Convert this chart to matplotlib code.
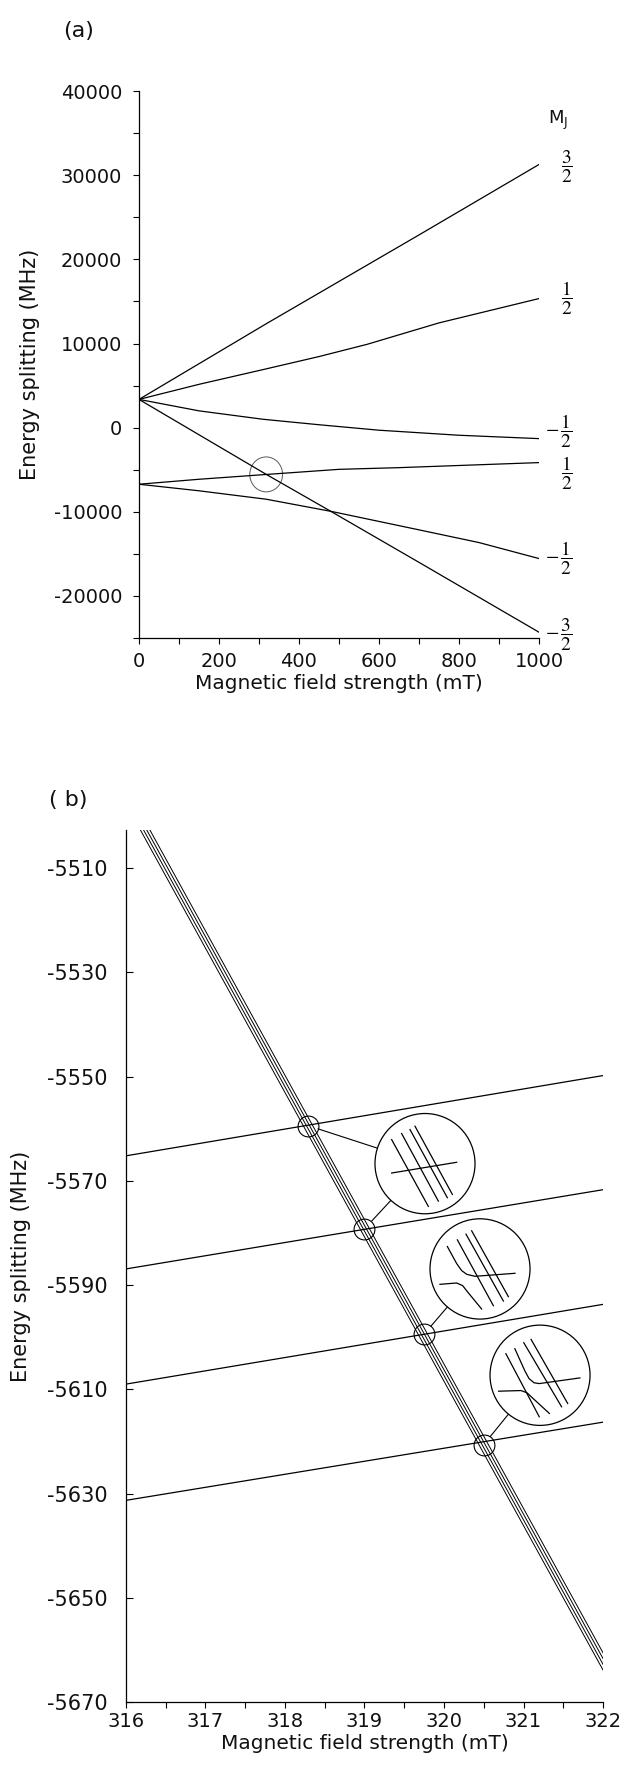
import matplotlib
matplotlib.use("Agg")
import matplotlib.pyplot as plt
from matplotlib.patches import Ellipse
from matplotlib.ticker import MultipleLocator

plt.rcParams["font.family"] = "DejaVu Sans"
plt.rcParams["axes.unicode_minus"] = False

# ---- panel (a): Zeeman levels up to 1 T ----
b_up_32 = [0, 320, 700, 1000]
e_up_32 = [3360, 12400, 22900, 31270]
b_up_12 = [0, 150, 310, 450, 570, 750, 1000]
e_up_12 = [3360, 5150, 6900, 8450, 9900, 12450, 15340]
b_up_m12 = [0, 150, 310, 450, 600, 800, 1000]
e_up_m12 = [3360, 2000, 1000, 350, -300, -900, -1300]
b_up_m32 = [0, 320, 480, 700, 1000]
e_up_m32 = [3360, -5600, -9950, -16000, -24300]
b_lo_12 = [0, 150, 318, 500, 650, 1000]
e_lo_12 = [-6720, -6130, -5560, -4950, -4750, -4150]
b_lo_m12 = [0, 150, 318, 483, 693, 850, 1000]
e_lo_m12 = [-6720, -7500, -8500, -9970, -12070, -13650, -15550]

mj_labels = [r"$\dfrac{3}{2}$", r"$\dfrac{1}{2}$", r"$-\,\dfrac{1}{2}$",
             r"$\dfrac{1}{2}$", r"$-\,\dfrac{1}{2}$", r"$-\,\dfrac{3}{2}$"]
label_dy = [-2, 0, 5, -8, 0, -2]   # points, keeps crowded labels apart

zoom_b, zoom_e = 318, -5550        # region blown up in panel (b)

# ---- panel (b): crossings near 318-321 mT ----
field_b = [316.0, 322.0]
steep_e = [[-5497.65, -5663.85], [-5496.55, -5662.75],
           [-5495.45, -5661.65], [-5494.35, -5660.55]]
flat_e = [[-5565.2, -5549.8], [-5586.9, -5571.7],
          [-5609.0, -5593.7], [-5631.3, -5616.3]]
cross_b = [318.29, 319.0, 319.75, 320.5]
cross_e = [-5559.4, -5579.2, -5599.4, -5620.6]
bubble_b = [319.761, 320.453, 321.208]
bubble_e = [-5566.7, -5586.9, -5607.3]
cross_to_bubble = [0, 0, 1, 2]

# schematic sketches inside each bubble, in units of the bubble radius
sketch_1 = [
    [(-0.667, 0.48), (0.067, -0.853)],
    [(-0.467, 0.60), (0.267, -0.747)],
    [(-0.30, 0.68), (0.447, -0.68)],
    [(-0.20, 0.747), (0.547, -0.613)],
    [(-0.667, -0.187), (0.633, 0.027)],
]
sketch_2 = [
    [(-0.653, 0.447), (-0.467, 0.107), (-0.367, -0.033), (-0.267, -0.107),
     (-0.10, -0.147), (0.70, -0.087)],
    [(-0.80, -0.307), (-0.467, -0.28), (-0.347, -0.333), (-0.253, -0.453),
     (0.033, -0.80)],
    [(-0.453, 0.58), (0.267, -0.733)],
    [(-0.28, 0.693), (0.467, -0.64)],
    [(-0.167, 0.76), (0.567, -0.553)],
]
sketch_3 = [
    [(-0.683, 0.43), (-0.016, -0.828)],
    [(-0.504, 0.53), (-0.30, 0.08), (-0.22, -0.066), (-0.12, -0.15),
     (-0.016, -0.166), (0.797, -0.053)],
    [(-0.829, -0.318), (-0.382, -0.305), (-0.26, -0.35), (-0.138, -0.464),
     (0.187, -0.762)],
    [(-0.325, 0.649), (0.431, -0.629)],
    [(-0.179, 0.715), (0.553, -0.563)],
]
sketches = [sketch_1, sketch_2, sketch_3]
bubble_rx, bubble_ry = 0.629, 9.62   # mT, MHz

fig = plt.figure(figsize=(6.28, 17.68), dpi=100)
ax1 = fig.add_axes([0.2213, 0.6391, 0.6369, 0.3094])
ax2 = fig.add_axes([0.2006, 0.0373, 0.7596, 0.4932])

lw = 0.9
ink = "#111111"

# --- (a) ---
curves = [(b_up_32, e_up_32), (b_up_12, e_up_12), (b_up_m12, e_up_m12),
          (b_lo_12, e_lo_12), (b_lo_m12, e_lo_m12), (b_up_m32, e_up_m32)]
for (bx, ey), lab, dy in zip(curves, mj_labels, label_dy):
    ax1.plot(bx, ey, color="black", lw=lw)
    ax1.annotate(lab, xy=(bx[-1], ey[-1]), xytext=(24, dy),
                 textcoords="offset points", ha="right", va="center",
                 fontsize=14, math_fontfamily="stix", annotation_clip=False)
ax1.annotate(r"M$_{\rm J}$", xy=(1000, 36500), xytext=(14, 0),
             textcoords="offset points", ha="center", va="center",
             fontsize=13, color=ink, annotation_clip=False)
ax1.add_patch(Ellipse((zoom_b, zoom_e), 82, 4150, fill=False,
                      ec="0.35", lw=0.7))

ax1.set_xlim(0, 1000)
ax1.set_ylim(-25000, 40000)
ax1.xaxis.set_major_locator(MultipleLocator(200))
ax1.xaxis.set_minor_locator(MultipleLocator(100))
ax1.yaxis.set_major_locator(MultipleLocator(10000))
ax1.yaxis.set_minor_locator(MultipleLocator(5000))
ax1.tick_params(which="both", direction="out", length=4, width=0.8,
                labelsize=14, labelcolor=ink)
ax1.tick_params(axis="y", pad=8)
ax1.tick_params(axis="x", pad=6)
ax1.set_xlabel("Magnetic field strength (mT)", fontsize=14.5, color=ink,
               labelpad=2)
ax1.set_ylabel("Energy splitting (MHz)", fontsize=15, color=ink,
               labelpad=10)
ax1.text(-0.15, 1.11, "(a)", transform=ax1.transAxes, fontsize=16,
         ha="center", va="center", color=ink)

# --- (b) ---
for ey in steep_e:
    ax2.plot(field_b, ey, color="black", lw=0.7)
for ey in flat_e:
    ax2.plot(field_b, ey, color="black", lw=lw)
ax2.plot(cross_b, cross_e, "o", ms=15, mfc="none", mec="black", mew=0.8,
         zorder=4)
for i, k in enumerate(cross_to_bubble):
    ax2.annotate("", xy=(bubble_b[k], bubble_e[k]),
                 xytext=(cross_b[i], cross_e[i]),
                 arrowprops=dict(arrowstyle="-", color="black", lw=0.8,
                                 shrinkA=7.5, shrinkB=0), zorder=3)
for cb, ce, sk in zip(bubble_b, bubble_e, sketches):
    ax2.add_patch(Ellipse((cb, ce), 2 * bubble_rx, 2 * bubble_ry,
                          fc="white", ec="black", lw=lw, zorder=5))
    for seg in sk:
        xs = [cb + u * bubble_rx for u, v in seg]
        ys = [ce + v * bubble_ry for u, v in seg]
        ax2.plot(xs, ys, color="black", lw=0.9, zorder=6)

ax2.set_xlim(316, 322)
ax2.set_ylim(-5670, -5502.7)
ax2.xaxis.set_major_locator(MultipleLocator(1))
ax2.xaxis.set_minor_locator(MultipleLocator(0.5))
ax2.set_yticks(range(-5670, -5500, 20))
ax2.tick_params(axis="x", which="both", direction="out", length=4,
                width=0.8, labelsize=14, labelcolor=ink, pad=3)
ax2.tick_params(axis="y", direction="in", length=5, width=0.8,
                labelsize=15, labelcolor=ink, pad=13)
ax2.set_xlabel("Magnetic field strength (mT)", fontsize=14.5, color=ink,
               labelpad=2)
ax2.set_ylabel("Energy splitting (MHz)", fontsize=15, color=ink,
               labelpad=12)
ax2.text(-0.12, 1.035, "( b)", transform=ax2.transAxes, fontsize=16,
         ha="center", va="center", color=ink)

for ax in (ax1, ax2):
    ax.spines["top"].set_visible(False)
    ax.spines["right"].set_visible(False)
    ax.spines["left"].set_linewidth(0.9)
    ax.spines["bottom"].set_linewidth(0.9)

fig.savefig("out.png", dpi=100)
